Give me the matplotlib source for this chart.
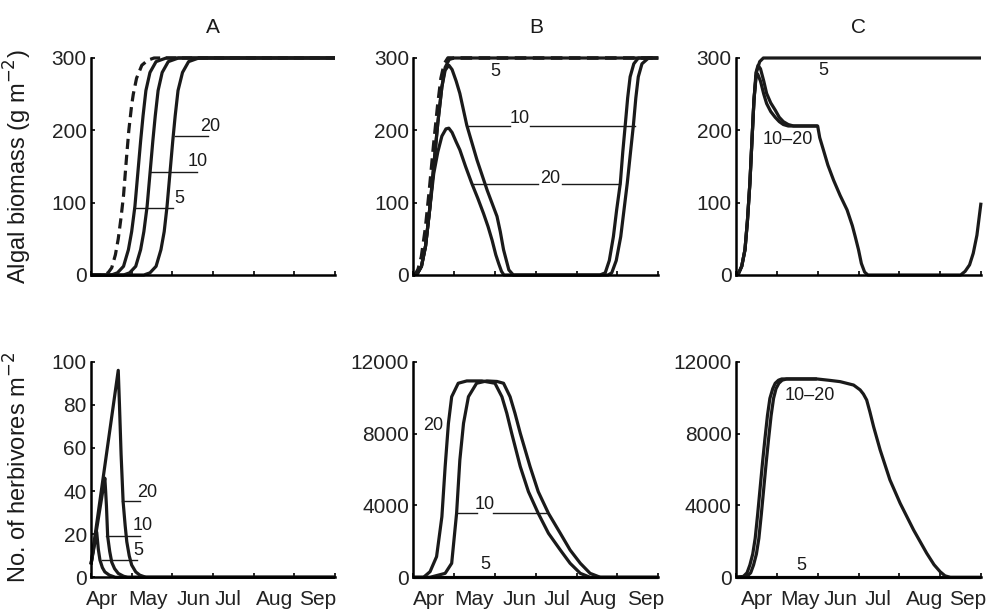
import matplotlib
matplotlib.use("Agg")
import matplotlib.pyplot as plt

plt.rcParams['font.family'] = ['Liberation Sans', 'DejaVu Sans']

# ---------------- data (x in months since 1 April) ----------------
month_labels = ["Apr", "May", "Jun", "Jul", "Aug", "Sep"]
panel_titles = ["A", "B", "C"]

# Top row: algal biomass
A_top_dash_x = [0, 0.3, 0.42, 0.51, 0.6, 0.67, 0.74, 0.8, 0.87, 0.93, 1.0, 1.04, 1.12, 1.25, 1.4, 1.55, 6]
A_top_dash_y = [0, 0, 3, 10, 28, 50, 80, 110, 160, 200, 235, 250, 272, 290, 297, 300, 300]
A_top_5_x = [0, 0.5, 0.65, 0.8, 0.92, 1.0, 1.08, 1.15, 1.22, 1.28, 1.35, 1.45, 1.6, 1.85, 6]
A_top_5_y = [0, 0, 3, 12, 35, 60, 95, 140, 185, 220, 255, 280, 295, 300, 300]
A_top_10_x = [0, 0.8, 0.95, 1.1, 1.22, 1.3, 1.38, 1.45, 1.52, 1.58, 1.65, 1.75, 1.9, 2.15, 6]
A_top_10_y = [0, 0, 3, 12, 35, 60, 95, 140, 185, 220, 255, 280, 295, 300, 300]
A_top_20_x = [0, 1.3, 1.45, 1.6, 1.72, 1.8, 1.87, 1.94, 2.01, 2.07, 2.14, 2.25, 2.4, 2.65, 6]
A_top_20_y = [0, 0, 3, 12, 35, 60, 95, 140, 185, 220, 255, 280, 295, 300, 300]

B_top_dash_x = [0, 0.05, 0.12, 0.2, 0.3, 0.4, 0.5, 0.6, 0.68, 0.76, 0.85, 6]
B_top_dash_y = [0, 1, 8, 25, 65, 120, 180, 235, 272, 292, 300, 300]
B_top_5_x = [0, 0.1, 0.2, 0.3, 0.4, 0.5, 0.6, 0.7, 0.78, 0.88, 1.0, 6]
B_top_5_y = [0, 2, 12, 40, 90, 150, 210, 260, 287, 298, 300, 300]
B_top_10_x = [0, 0.1, 0.2, 0.3, 0.4, 0.5, 0.6, 0.7, 0.78, 0.87, 0.95, 1.05, 1.14, 1.31, 1.56,
              1.81, 2.05, 2.13, 2.21, 2.34, 2.45, 4.77, 4.86, 4.97, 5.08, 5.16, 5.24, 5.32,
              5.39, 5.45, 5.51, 5.6, 5.76, 6]
B_top_10_y = [0, 2, 12, 40, 90, 150, 210, 260, 283, 290, 284, 268, 251, 207, 159,
              117, 81, 60, 35, 7, 0, 0, 3, 20, 53, 90, 127, 170,
              207, 245, 274, 292, 300, 300]
B_top_20_x = [0, 0.1, 0.2, 0.3, 0.4, 0.5, 0.6, 0.7, 0.8, 0.87, 0.95, 1.05, 1.14, 1.28, 1.43,
              1.58, 1.72, 1.83, 1.93, 2.02, 2.09, 2.16, 2.22, 4.57, 4.7, 4.8, 4.9, 4.98, 5.07,
              5.13, 5.19, 5.25, 5.31, 5.4, 5.51, 6]
B_top_20_y = [0, 2, 12, 40, 90, 140, 170, 192, 202, 203, 197, 184, 173, 150, 127,
              106, 85, 67, 48, 28, 16, 5, 0, 0, 3, 20, 53, 90, 127,
              170, 207, 245, 274, 292, 300, 300]

C_top_5_x = [0, 0.06, 0.14, 0.22, 0.28, 0.34, 0.39, 0.44, 0.5, 0.58, 0.67, 6]
C_top_5_y = [0, 2, 12, 35, 75, 127, 185, 242, 280, 295, 300, 300]
C_top_10_x = [0, 0.06, 0.14, 0.22, 0.28, 0.34, 0.39, 0.44, 0.49, 0.54, 0.6, 0.68, 0.75, 0.85,
              0.96, 1.06, 1.16, 1.28, 1.41, 2.0, 2.05, 2.14, 2.25, 2.39, 2.55, 2.72, 2.85,
              2.92, 3.0, 3.07, 3.15, 3.23, 5.5, 5.61, 5.72, 5.81, 5.9, 6.0]
C_top_10_y = [0, 2, 12, 35, 75, 127, 185, 242, 280, 290, 285, 268, 251, 238,
              228, 218, 212, 208, 206, 206, 190, 173, 152, 131, 110, 90, 68,
              53, 35, 16, 4, 0, 0, 5, 14, 30, 55, 100]
C_top_20_x = [0, 0.06, 0.14, 0.22, 0.28, 0.34, 0.39, 0.44, 0.49, 0.53, 0.6, 0.68, 0.75, 0.85,
              0.96, 1.06, 1.16, 1.28, 1.41, 2.0]
C_top_20_y = [0, 2, 12, 35, 75, 127, 185, 242, 275, 278, 268, 250, 237, 226,
              218, 212, 208, 206, 206, 206]

# Bottom row: herbivores
A_bot_20_x = [0, 0.67, 0.7, 0.74, 0.79, 0.84, 0.88, 0.94, 1.0, 1.1, 1.2, 1.35, 6]
A_bot_20_y = [6, 96, 80, 57, 35, 24, 16.5, 10, 5.7, 2.5, 1, 0, 0]
A_bot_10_x = [0, 0.34, 0.36, 0.38, 0.41, 0.46, 0.51, 0.58, 0.67, 0.8, 0.9, 6]
A_bot_10_y = [6, 46, 40, 33, 19, 12, 7, 4, 1.8, 0.5, 0, 0]
A_bot_5_x = [0, 0.14, 0.18, 0.22, 0.28, 0.34, 0.45, 0.6, 6]
A_bot_5_y = [6, 21, 13, 8, 4.5, 2.5, 1, 0, 0]

B_bot_20_x = [0, 0.25, 0.41, 0.57, 0.7, 0.78, 0.86, 0.94, 1.1, 1.31, 1.68, 2.0, 2.17, 2.29,
              2.41, 2.62, 2.82, 3.06, 3.31, 3.6, 3.84, 4.09, 4.33, 6]
B_bot_20_y = [0, 0, 312, 1150, 3370, 6160, 8570, 10050, 10800, 10930, 10930, 10800, 10050, 9130,
              8015, 6160, 4765, 3560, 2450, 1520, 780, 220, 0, 0]
B_bot_10_x = [0, 0.41, 0.78, 0.94, 1.06, 1.14, 1.23, 1.35, 1.55, 1.8, 2.05, 2.21, 2.37, 2.49,
              2.62, 2.86, 3.06, 3.31, 3.6, 3.84, 4.09, 4.33, 4.58, 6]
B_bot_10_y = [0, 0, 220, 780, 3560, 6530, 8570, 10050, 10800, 10930, 10900, 10800, 10050, 9130,
              8015, 6160, 4765, 3560, 2450, 1520, 780, 220, 0, 0]
B_bot_5_x = [0, 6]
B_bot_5_y = [0, 0]

C_bot_a_x = [0, 0.18, 0.27, 0.34, 0.41, 0.47, 0.53, 0.59, 0.65, 0.71, 0.77, 0.83, 0.9, 0.96,
             1.04, 1.12, 1.98, 2.3, 2.55, 2.88, 3.04, 3.12, 3.2, 3.28, 3.37, 3.53, 3.77, 4.02,
             4.35, 4.67, 4.85, 5.0, 5.12, 5.25, 6]
C_bot_a_y = [0, 50, 250, 685, 1300, 2170, 3500, 4950, 6400, 7740, 9000, 9960, 10500, 10800,
             10970, 11040, 11040, 10960, 10890, 10700, 10430, 10200, 9870, 9200, 8380, 7090, 5420, 4120,
             2630, 1340, 700, 310, 80, 0, 0]
C_bot_b_x = [0, 0.27, 0.36, 0.43, 0.5, 0.56, 0.62, 0.68, 0.74, 0.8, 0.86, 0.92, 0.98, 1.05,
             1.13, 1.24, 1.98]
C_bot_b_y = [0, 50, 250, 685, 1300, 2170, 3500, 4950, 6400, 7740, 9000, 9960, 10500, 10800,
             10970, 11040, 11040]
C_bot_5_x = [0, 6]
C_bot_5_y = [0, 0]

# ---------------- figure ----------------
fig = plt.figure(figsize=(9.9, 6.12), dpi=100)
lefts = [91 / 990, 413.3 / 990, 736 / 990]
widths = [244 / 990, 245 / 990, 245 / 990]
top_b, top_h = 1 - 275 / 612, 217 / 612
bot_b, bot_h = 1 - 577.3 / 612, 215.6 / 612
# month-label centres (layout) for each bottom panel
month_pos = [[0.28, 1.4, 2.53, 3.38, 4.52, 5.57],
             [0.39, 1.49, 2.61, 3.51, 4.53, 5.68],
             [0.51, 1.57, 2.55, 3.47, 4.63, 5.67]]

LW = 2.3
LEAD = 1.0
FS = 15
MFS = 15
ANN = 13

def style(ax, ylim, yticks, col, bottom_row):
    ax.set_xlim(0, 6)
    ax.set_ylim(*ylim)
    for s in ("top", "right"):
        ax.spines[s].set_visible(False)
    for s in ("left", "bottom"):
        ax.spines[s].set_linewidth(1.8)
    ax.set_xticks(range(7))
    ax.set_xticklabels([])
    ax.set_yticks(yticks)
    ax.set_yticklabels([str(v) for v in yticks], fontsize=FS, color="#222222")
    ax.tick_params(axis="both", direction="in", length=3, width=1.2, pad=3)
    if bottom_row:
        ax.set_xticks(month_pos[col], minor=True)
        ax.set_xticklabels(month_labels, minor=True, fontsize=MFS, color="#222222")
        ax.tick_params(axis="x", which="minor", length=0, pad=9)

def curve(ax, x, y, **kw):
    kw.setdefault("color", "#1a1a1a")
    kw.setdefault("lw", LW)
    ax.plot(x, y, clip_on=False, solid_capstyle="butt", **kw)

def lead(ax, x0, x1, y):
    ax.plot([x0, x1], [y, y], color="#1a1a1a", lw=LEAD, clip_on=False)

def lab(ax, x, y, t):
    ax.text(x, y, t, fontsize=ANN, ha="center", va="center", color="#1a1a1a")

axes = []
for r in range(2):
    row = []
    for c in range(3):
        b, h = (top_b, top_h) if r == 0 else (bot_b, bot_h)
        row.append(fig.add_axes([lefts[c], b, widths[c], h]))
    axes.append(row)

# --- A top
ax = axes[0][0]
style(ax, (0, 300), [0, 100, 200, 300], 0, False)
curve(ax, A_top_dash_x, A_top_dash_y, ls=(0, (3.2, 1.8)))
curve(ax, A_top_5_x, A_top_5_y)
curve(ax, A_top_10_x, A_top_10_y)
curve(ax, A_top_20_x, A_top_20_y)
lead(ax, 1.08, 2.02, 92); lab(ax, 2.17, 106, "5")
lead(ax, 1.45, 2.6, 142); lab(ax, 2.62, 157, "10")
lead(ax, 2.07, 2.88, 191.5); lab(ax, 2.93, 205, "20")

# --- B top
ax = axes[0][1]
style(ax, (0, 300), [0, 100, 200, 300], 1, False)
curve(ax, B_top_5_x, B_top_5_y)
curve(ax, B_top_10_x, B_top_10_y)
curve(ax, B_top_20_x, B_top_20_y)
curve(ax, B_top_dash_x, B_top_dash_y, ls=(0, (3.2, 1.8)), lw=2.6)
lab(ax, 2.0, 281, "5")
lead(ax, 1.35, 2.37, 206); lead(ax, 2.86, 5.43, 206); lab(ax, 2.61, 216, "10")
lead(ax, 1.43, 3.06, 126); lead(ax, 3.64, 5.07, 126); lab(ax, 3.35, 133, "20")

# --- C top
ax = axes[0][2]
style(ax, (0, 300), [0, 100, 200, 300], 2, False)
curve(ax, C_top_5_x, C_top_5_y)
curve(ax, C_top_10_x, C_top_10_y)
curve(ax, C_top_20_x, C_top_20_y)
lab(ax, 2.13, 283, "5")
lab(ax, 1.28, 187, "10\u201320")

# --- A bottom
ax = axes[1][0]
style(ax, (0, 100), [0, 20, 40, 60, 80, 100], 0, True)
curve(ax, A_bot_20_x, A_bot_20_y)
curve(ax, A_bot_10_x, A_bot_10_y)
curve(ax, A_bot_5_x, A_bot_5_y)
lead(ax, 0.75, 1.2, 35.4); lab(ax, 1.37, 39.5, "20")
lead(ax, 0.37, 1.2, 19.3); lab(ax, 1.28, 24, "10")
lead(ax, 0.26, 1.12, 8); lab(ax, 1.16, 12.3, "5")

# --- B bottom
ax = axes[1][1]
style(ax, (0, 12000), [0, 4000, 8000, 12000], 1, True)
curve(ax, B_bot_20_x, B_bot_20_y)
curve(ax, B_bot_10_x, B_bot_10_y)
curve(ax, B_bot_5_x, B_bot_5_y)
lab(ax, 0.49, 8470, "20")
lead(ax, 1.06, 1.55, 3560); lead(ax, 1.96, 3.31, 3560); lab(ax, 1.76, 4050, "10")
lab(ax, 1.76, 700, "5")

# --- C bottom
ax = axes[1][2]
style(ax, (0, 12000), [0, 4000, 8000, 12000], 2, True)
curve(ax, C_bot_a_x, C_bot_a_y)
curve(ax, C_bot_b_x, C_bot_b_y)
curve(ax, C_bot_5_x, C_bot_5_y)
lab(ax, 1.81, 10100, "10\u201320")
lab(ax, 1.61, 680, "5")

for c in range(3):
    axes[0][c].set_title(panel_titles[c], fontsize=15, pad=18, color="#1a1a1a")

fig.text(18 / 990, 1 - 167 / 612, "Algal biomass (g m$^{\u22122}$)", rotation=90,
         ha="center", va="center", fontsize=17, color="#1a1a1a")
fig.text(18 / 990, 1 - 467 / 612, "No. of herbivores m$^{\u22122}$", rotation=90,
         ha="center", va="center", fontsize=17, color="#1a1a1a")

fig.savefig("out.png", dpi=100)
